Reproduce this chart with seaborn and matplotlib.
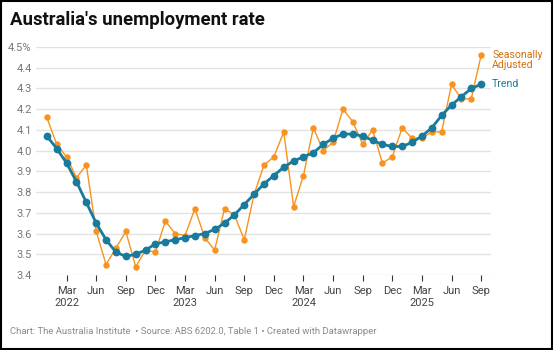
import numpy as np
import pandas as pd
import matplotlib
matplotlib.use("Agg")
import matplotlib.pyplot as plt
import seaborn as sns

# ── data: monthly, Jan 2022 – Sep 2025 ─────────────────────────────────────────
months = pd.date_range("2022-01-01", "2025-09-01", freq="MS")

seasonally_adjusted = [
    4.16, 4.03, 3.97, 3.87, 3.93, 3.61, 3.45, 3.53, 3.61, 3.44, 3.52, 3.51,   # 2022
    3.66, 3.60, 3.59, 3.72, 3.58, 3.52, 3.72, 3.69, 3.57, 3.79, 3.93, 3.97,   # 2023
    4.09, 3.73, 3.88, 4.11, 4.00, 4.04, 4.20, 4.14, 4.03, 4.10, 3.94, 3.97,   # 2024
    4.11, 4.06, 4.06, 4.09, 4.09, 4.32, 4.25, 4.25, 4.46,                     # 2025
]
trend = [
    4.07, 4.01, 3.94, 3.85, 3.75, 3.65, 3.57, 3.51, 3.49, 3.50, 3.52, 3.55,
    3.56, 3.57, 3.58, 3.59, 3.60, 3.62, 3.65, 3.69, 3.74, 3.79, 3.84, 3.88,
    3.92, 3.95, 3.97, 3.99, 4.03, 4.06, 4.08, 4.08, 4.07, 4.05, 4.03, 4.02,
    4.02, 4.04, 4.07, 4.11, 4.17, 4.22, 4.26, 4.30, 4.32,
]

y_ticks = [3.4, 3.5, 3.6, 3.7, 3.8, 3.9, 4.0, 4.1, 4.2, 4.3, 4.4, 4.5]

ORANGE = "#f7931e"
ORANGE_TXT = "#d2700c"
TEAL = "#1a7a9c"
GREY = "#777777"

df = pd.DataFrame({
    "idx": np.arange(len(months)),
    "Seasonally Adjusted": seasonally_adjusted,
    "Trend": trend,
})

# ── figure ─────────────────────────────────────────────────────────────────────
sns.set_theme(style="white")
plt.rcParams["font.family"] = ["Roboto", "DejaVu Sans"]

fig = plt.figure(figsize=(5.53, 3.5), dpi=100)
ax = fig.add_axes([36 / 553, 1 - 275 / 350, (491 - 36) / 553, (275 - 47) / 350])

sns.lineplot(data=df, x="idx", y="Seasonally Adjusted", ax=ax, color=ORANGE,
             lw=1.0, marker="o", markersize=4.6, markeredgewidth=0, zorder=3)
sns.lineplot(data=df, x="idx", y="Trend", ax=ax, color=TEAL,
             lw=2.0, marker="o", markersize=5.6, markeredgewidth=0, zorder=4)

ax.set_ylim(3.4, 4.5)
ax.set_xlim(-1.1, len(months))
ax.set_yticks(y_ticks)
ax.set_yticklabels([f"{v:.1f}%" if v == 4.5 else f"{v:.1f}" for v in y_ticks])
ax.grid(axis="y", color="#e2e2e2", lw=1)
ax.set_axisbelow(True)
for s in ax.spines.values():
    s.set_visible(False)

# x ticks: every quarter starting in March, year under March
tick_idx = list(range(2, len(months), 3))
tick_lbl = []
for i in tick_idx:
    m = months[i]
    lbl = m.strftime("%b")
    if m.month == 3:
        lbl += f"\n{m.year}"
    tick_lbl.append(lbl)
ax.set_xticks(tick_idx)
ax.set_xticklabels(tick_lbl)
ax.tick_params(axis="x", length=4, width=0.8, color="#333333", pad=4,
               labelsize=8, labelcolor="#444444", direction="out", bottom=True)
ax.tick_params(axis="y", length=0, pad=3, labelsize=8, labelcolor=GREY)
for t in ax.get_yticklabels():
    t.set_horizontalalignment("right")
ax.set_xlabel("")
ax.set_ylabel("")
leg = ax.get_legend()
if leg:
    leg.remove()

# direct labels at the end of each line
last = len(months) - 1
ax.annotate("Seasonally\nAdjusted", xy=(last, seasonally_adjusted[-1]),
            xytext=(8, 4), textcoords="offset points", va="top", ha="left",
            color=ORANGE_TXT, fontsize=7.6, linespacing=1.05,
            annotation_clip=False)
ax.annotate("Trend", xy=(last, trend[-1]), xytext=(8, 0),
            textcoords="offset points", va="center", ha="left",
            color=TEAL, fontsize=7.6, annotation_clip=False)

fig.text(10 / 553, 1 - 20 / 350, "Australia's unemployment rate",
         fontsize=13.3, fontweight="bold", va="center", ha="left", color="#111111")
fig.text(10 / 553, 1 - 332 / 350,
         "Chart: The Australia Institute  \u2022 Source: ABS 6202.0, Table 1 \u2022 Created with Datawrapper",
         fontsize=6.8, color="#8a8a8a", va="center", ha="left")

# thin black frame round the whole image
fig.patches.append(plt.Rectangle((0.001, 0.002), 0.997, 0.996, transform=fig.transFigure,
                                 fill=False, edgecolor="black", lw=1.5))

fig.savefig("out.png", dpi=100)
